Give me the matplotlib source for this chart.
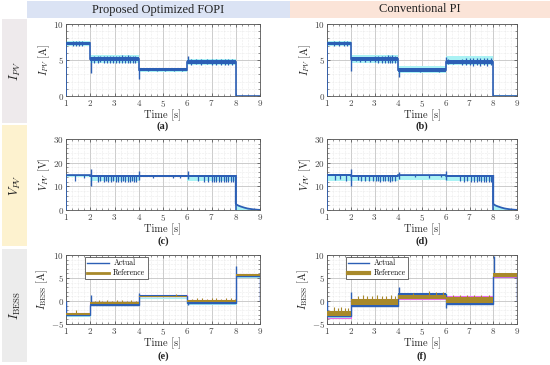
import numpy as np
import matplotlib
matplotlib.use("Agg")
import matplotlib.pyplot as plt
from matplotlib.patches import Rectangle
from matplotlib.lines import Line2D
from matplotlib.ticker import MultipleLocator

plt.rcParams['mathtext.fontset'] = 'cm'
plt.rcParams['font.family'] = ['cmr10', 'DejaVu Serif']
plt.rcParams['axes.formatter.use_mathtext'] = True

BLUE = '#2c5fb5'
CYAN = '#aaf2f4'
OLIVE = '#a8892a'
MAGENTA = '#e86be8'

edges = [1, 2, 4, 6, 8, 9]
edges_v = [1, 2, 4, 6, 8]

# (a) I_PV, proposed FOPI
ipv_a_level = [7.3, 5.1, 3.65, 4.75, 0.0]
ipv_a_lo = [7.05, 4.8, 3.45, 4.45, 0.0]
ipv_a_hi = [7.5, 5.4, 3.85, 5.0, 0.0]
ipv_a_cyan_lo = [7.0, 4.6, 3.3, 4.3, 0.0]
ipv_a_cyan_hi = [7.6, 5.7, 3.9, 5.2, 0.05]
ipv_a_burst_t = [1.28, 1.42, 1.55, 1.68,
                 2.15, 2.3, 2.42, 2.55, 2.68, 2.8, 2.92, 3.05, 3.18, 3.3, 3.42, 3.55, 3.65, 3.75, 3.85,
                 4.4, 4.75, 5.1, 5.45, 5.8,
                 6.15, 6.35, 6.55, 6.8, 7.0, 7.2, 7.4, 7.55, 7.7, 7.85]
ipv_a_burst_amp = [0.3, 0.35, 0.3, 0.3,
                   0.45, 0.5, 0.4, 0.5, 0.45, 0.5, 0.45, 0.5, 0.5, 0.55, 0.5, 0.55, 0.5, 0.5, 0.45,
                   0.15, 0.15, 0.2, 0.15, 0.2,
                   0.45, 0.35, 0.4, 0.35, 0.4, 0.4, 0.45, 0.4, 0.45, 0.4]
ipv_a_jump_t = [2.02, 4.02, 6.02]
ipv_a_jump_lo = [3.2, 2.4, 4.6]
ipv_a_jump_hi = [5.1, 3.65, 5.5]

# (b) I_PV, conventional PI
ipv_b_level = [7.3, 5.1, 3.6, 4.75, 0.0]
ipv_b_lo = [7.05, 4.8, 3.4, 4.45, 0.0]
ipv_b_hi = [7.5, 5.4, 3.85, 5.05, 0.0]
ipv_b_cyan_lo = [6.95, 4.55, 3.25, 4.35, 0.0]
ipv_b_cyan_hi = [7.7, 5.75, 4.2, 5.55, 0.1]
ipv_b_burst_t = [1.3, 1.5, 1.7, 1.85,
                 2.2, 2.4, 2.6, 2.8, 3.0, 3.15, 3.3, 3.45, 3.55, 3.65, 3.75, 3.85,
                 4.5, 4.9, 5.3, 5.7,
                 6.1, 6.3, 6.7, 6.85, 7.0, 7.15, 7.3, 7.45, 7.6, 7.75, 7.9]
ipv_b_burst_amp = [0.35, 0.4, 0.3, 0.3,
                   0.3, 0.35, 0.35, 0.35, 0.4, 0.45, 0.5, 0.5, 0.55, 0.5, 0.55, 0.5,
                   0.15, 0.2, 0.15, 0.2,
                   0.35, 0.3, 0.45, 0.5, 0.5, 0.55, 0.5, 0.55, 0.5, 0.55, 0.5]
ipv_b_jump_t = [2.02, 4.02, 6.02]
ipv_b_jump_lo = [3.5, 2.6, 4.6]
ipv_b_jump_hi = [5.1, 3.6, 5.4]

# (c) V_PV, proposed FOPI
vpv_c_level = [14.6, 14.4, 14.4, 14.3]
vpv_c_lo = [14.2, 13.9, 14.0, 13.8]
vpv_c_hi = [15.0, 14.8, 14.8, 14.7]
vpv_c_cyan_lo = [14.0, 12.3, 13.8, 12.3]
vpv_c_cyan_hi = [15.0, 14.8, 14.8, 14.8]
vpv_c_burst_t = [1.38, 1.75,
                 2.3, 2.42, 2.55, 2.65, 2.75, 2.85, 2.95, 3.05, 3.15, 3.25, 3.35, 3.45, 3.55, 3.65, 3.72, 3.8, 3.88,
                 4.6, 5.4, 5.7,
                 6.45, 6.7, 6.85, 7.0, 7.1, 7.2, 7.3, 7.4, 7.5, 7.6, 7.7, 7.8, 7.9]
vpv_c_burst_amp = [2.5, 1.0,
                   2.6, 2.2, 2.5, 2.3, 2.4, 2.5, 2.3, 2.6, 2.4, 2.5, 2.3, 2.5, 2.4, 2.6, 2.3, 2.5, 2.4,
                   0.8, 1.0, 0.8,
                   2.2, 2.4, 2.3, 2.6, 2.4, 2.5, 2.3, 2.5, 2.4, 2.6, 2.3, 2.5, 2.4]
vpv_c_jump_t = [2.02, 4.02, 6.02]
vpv_c_jump_lo = [10.0, 12.8, 13.0]
vpv_c_jump_hi = [17.5, 16.5, 16.5]

# (d) V_PV, conventional PI
vpv_d_level = [14.7, 14.5, 14.6, 14.4]
vpv_d_lo = [14.3, 14.0, 14.2, 13.9]
vpv_d_hi = [15.1, 14.9, 15.0, 14.8]
vpv_d_cyan_lo = [12.4, 12.2, 12.6, 12.2]
vpv_d_cyan_hi = [15.2, 15.0, 15.0, 15.0]
vpv_d_burst_t = [1.35, 1.55, 1.8,
                 2.3, 2.45, 2.6, 2.75, 2.95, 3.05, 3.15, 3.25, 3.35, 3.45, 3.55, 3.65, 3.75, 3.85,
                 4.7, 5.3, 5.8,
                 6.6, 6.75, 6.9, 7.05, 7.2, 7.3, 7.4, 7.5, 7.6, 7.7, 7.8, 7.9]
vpv_d_burst_amp = [2.2, 1.8, 2.3,
                   2.0, 2.3, 2.1, 2.4, 2.2, 2.4, 2.3, 2.5, 2.2, 2.4, 2.3, 2.5, 2.4, 2.3,
                   0.8, 1.0, 0.8,
                   2.2, 2.4, 2.3, 2.5, 2.4, 2.5, 2.3, 2.5, 2.4, 2.6, 2.4, 2.5]
vpv_d_jump_t = [2.02, 4.02, 6.02]
vpv_d_jump_lo = [10.0, 13.0, 12.5]
vpv_d_jump_hi = [17.5, 16.0, 16.5]

# V_PV collapse after t = 8 s (same in both columns)
vpv_decay_t = [8.0, 8.0, 8.03, 8.1, 8.2, 8.35, 8.5, 8.7, 8.9, 9.0]
vpv_decay_v = [14.4, 2.7, 2.3, 1.9, 1.5, 1.0, 0.6, 0.3, 0.1, 0.05]

# (e) I_BESS, proposed FOPI
ib_e_act_level = [-3.0, -0.8, 1.1, -0.35, 5.5]
ib_e_act_lo = [-3.25, -0.9, 0.9, -0.5, 5.25]
ib_e_act_hi = [-2.75, -0.65, 1.3, -0.2, 5.75]
ib_e_ref_lo = [-3.0, -0.6, 0.85, -0.2, 5.35]
ib_e_ref_hi = [-2.6, -0.2, 1.1, 0.2, 5.8]
ib_e_mag = [-2.6, -0.15, 1.3, 0.3, 5.85]
ib_e_cyan = [-3.3, -0.95, 0.75, -0.6, 5.2]
ib_e_burst_t = [1.4,
                2.2, 2.35, 2.5, 2.7, 2.9, 3.1, 3.3, 3.5, 3.7, 3.9,
                5.55,
                6.2, 6.4, 6.6, 6.8, 7.0, 7.2, 7.4, 7.6, 7.8, 7.95]
ib_e_burst_amp = [0.6,
                  0.3, 0.4, 0.3, 0.35, 0.3, 0.4, 0.35, 0.3, 0.4, 0.3,
                  0.45,
                  0.3, 0.4, 0.35, 0.3, 0.4, 0.35, 0.3, 0.4, 0.35, 0.3]
ib_e_jump_t = [2.02, 4.02, 6.02, 8.02]
ib_e_jump_lo = [-0.8, 1.1, -0.8, 5.5]
ib_e_jump_hi = [1.2, 1.8, -0.35, 7.7]

# (f) I_BESS, conventional PI
ib_f_act_level = [-3.35, -1.0, 1.5, -0.6, 5.35]
ib_f_act_lo = [-3.5, -1.1, 1.3, -0.75, 5.2]
ib_f_act_hi = [-3.2, -0.9, 1.65, -0.45, 5.5]
ib_f_ref_lo = [-3.3, -0.9, 0.5, -0.5, 5.3]
ib_f_ref_hi = [-2.2, 0.4, 1.4, 0.95, 6.0]
ib_f_mag = [-3.65, 0.5, 0.5, 1.15, 5.2]
ib_f_cyan = [-3.45, -1.05, 1.7, -0.65, 6.05]
ib_f_burst_t = [1.3, 1.45, 1.6, 1.75, 1.9,
                2.3, 2.5, 2.7, 2.9, 3.1, 3.3, 3.5, 3.7, 3.85,
                4.6, 5.3, 5.6, 5.9,
                6.3, 6.6, 6.9, 7.2, 7.5, 7.8]
ib_f_burst_amp = [0.8, 0.7, 0.9, 0.6, 0.7,
                  0.6, 0.8, 0.7, 0.6, 0.8, 0.7, 0.6, 0.8, 0.7,
                  0.4, 0.8, 0.6, 0.5,
                  0.3, 0.35, 0.3, 0.35, 0.3, 0.35]
ib_f_jump_t = [2.02, 4.02, 6.02, 8.02]
ib_f_jump_lo = [-1.0, 1.5, -1.5, 5.35]
ib_f_jump_hi = [2.0, 3.0, -0.6, 9.8]

col_titles = ['Proposed Optimized FOPI', 'Conventional PI']
row_titles = [r'$I_{PV}$', r'$V_{PV}$', r'$I_{\mathrm{BESS}}$']
panel_tags = ['(a)', '(b)', '(c)', '(d)', '(e)', '(f)']


def px(x):
    return x / 550.0


def py(y):
    return 1 - y / 365.0


def level_at(t, e, lev):
    i = np.searchsorted(e, t, side='right') - 1
    return np.asarray(lev)[np.clip(i, 0, len(lev) - 1)]


def bursts(ax, t, amp, e, lev, color, mode='both', lw=0.9, z=4):
    base = level_at(np.array(t), e, lev)
    amp = np.array(amp)
    if mode == 'both':
        ax.vlines(t, base - amp, base + amp, color=color, lw=lw, zorder=z)
    elif mode == 'down':
        ax.vlines(t, base - amp, base, color=color, lw=lw, zorder=z)
    else:
        ax.vlines(t, base, base + amp, color=color, lw=lw, zorder=z)


def style(ax, ylim, ymaj, ymin, ylabel):
    ax.set_xlim(1, 9)
    ax.set_ylim(ylim)
    ax.xaxis.set_major_locator(MultipleLocator(1))
    ax.xaxis.set_minor_locator(MultipleLocator(0.25))
    ax.yaxis.set_major_locator(MultipleLocator(ymaj))
    ax.yaxis.set_minor_locator(MultipleLocator(ymin))
    ax.set_axisbelow(True)
    ax.grid(which='major', color='#c4c4c4', lw=0.6)
    ax.grid(which='minor', color='#dadada', lw=0.4, ls=':')
    ax.tick_params(which='both', direction='in', top=True, right=True,
                   labelsize=6.5, colors='#444444', pad=1.5)
    ax.tick_params(which='major', length=2.5, width=0.5)
    ax.tick_params(which='minor', length=1.2, width=0.4)
    for s in ax.spines.values():
        s.set_color('#555555')
        s.set_linewidth(0.6)
    ax.set_xlabel('Time [s]', fontsize=7.5, labelpad=0, color='#222222')
    ax.set_ylabel(ylabel, fontsize=7.5, labelpad=1, color='#222222')


fig = plt.figure(figsize=(5.5, 3.65), dpi=100)

# header bands and row bands
fig.add_artist(Rectangle((px(27), py(18)), px(290 - 27), py(1) - py(18),
                         transform=fig.transFigure, color='#dbe3f4', lw=0))
fig.add_artist(Rectangle((px(290), py(18)), px(550 - 290), py(1) - py(18),
                         transform=fig.transFigure, color='#fbe4d8', lw=0))
fig.text(px(158), py(9.5), col_titles[0], ha='center', va='center', fontsize=9,
         family='Liberation Serif', color='#222222')
fig.text(px(420), py(9.5), col_titles[1], ha='center', va='center', fontsize=9,
         family='Liberation Serif', color='#222222')

bands = [(19, 123, '#eeeaec'), (125, 246, '#fdf2cf'), (249, 362, '#ececec')]
for (y0, y1, c), title in zip(bands, row_titles):
    fig.add_artist(Rectangle((px(2), py(y1)), px(25), py(y0) - py(y1),
                             transform=fig.transFigure, color=c, lw=0))
    fig.text(px(15), py((y0 + y1) / 2), title, rotation=90, ha='center', va='center',
             fontsize=9, color='#222222')

lefts = [66, 327]
widths = [194, 190]
rows = [(24, 96), (139, 210), (255, 324)]
axes = {}
for r, (top, bot) in enumerate(rows):
    for c in range(2):
        axes[(r, c)] = fig.add_axes([px(lefts[c]), py(bot), px(widths[c]), py(top) - py(bot)])

# row 1: I_PV
ipv_sets = [
    (ipv_a_level, ipv_a_lo, ipv_a_hi, ipv_a_cyan_lo, ipv_a_cyan_hi, ipv_a_burst_t, ipv_a_burst_amp,
     ipv_a_jump_t, ipv_a_jump_lo, ipv_a_jump_hi),
    (ipv_b_level, ipv_b_lo, ipv_b_hi, ipv_b_cyan_lo, ipv_b_cyan_hi, ipv_b_burst_t, ipv_b_burst_amp,
     ipv_b_jump_t, ipv_b_jump_lo, ipv_b_jump_hi),
]
for c, (lev, lo, hi, clo, chi, bt, ba, jt, jlo, jhi) in enumerate(ipv_sets):
    ax = axes[(0, c)]
    ax.stairs(chi, edges, baseline=clo, fill=True, color=CYAN, lw=0, zorder=2)
    ax.stairs(hi, edges, baseline=lo, fill=True, color=BLUE, lw=0, zorder=3)
    ax.stairs(lev, edges, color=BLUE, lw=1.2, zorder=3)
    bursts(ax, bt, ba, edges, lev, BLUE)
    ax.vlines(jt, jlo, jhi, color=BLUE, lw=1.0, zorder=4)
    style(ax, (0, 10), 5, 1, r'$I_{PV}$ [A]')

# row 2: V_PV
vpv_sets = [
    (vpv_c_level, vpv_c_lo, vpv_c_hi, vpv_c_cyan_lo, vpv_c_cyan_hi, vpv_c_burst_t, vpv_c_burst_amp,
     vpv_c_jump_t, vpv_c_jump_lo, vpv_c_jump_hi),
    (vpv_d_level, vpv_d_lo, vpv_d_hi, vpv_d_cyan_lo, vpv_d_cyan_hi, vpv_d_burst_t, vpv_d_burst_amp,
     vpv_d_jump_t, vpv_d_jump_lo, vpv_d_jump_hi),
]
for c, (lev, lo, hi, clo, chi, bt, ba, jt, jlo, jhi) in enumerate(vpv_sets):
    ax = axes[(1, c)]
    ax.stairs(chi, edges_v, baseline=clo, fill=True, color=CYAN, lw=0, zorder=2)
    ax.fill_between(vpv_decay_t, vpv_decay_v, color=CYAN, lw=0, zorder=2)
    ax.stairs(hi, edges_v, baseline=lo, fill=True, color=BLUE, lw=0, zorder=3)
    ax.stairs(lev, edges_v, color=BLUE, lw=1.2, zorder=3)
    ax.plot(vpv_decay_t, vpv_decay_v, color=BLUE, lw=1.3, zorder=3)
    bursts(ax, bt, ba, edges_v, lev, BLUE, mode='down')
    ax.vlines(jt, jlo, jhi, color=BLUE, lw=1.0, zorder=4)
    style(ax, (0, 30), 10, 2, r'$V_{PV}$ [V]')

# row 3: I_BESS
ib_sets = [
    (ib_e_act_level, ib_e_act_lo, ib_e_act_hi, ib_e_ref_lo, ib_e_ref_hi, ib_e_mag, ib_e_cyan,
     ib_e_burst_t, ib_e_burst_amp, ib_e_jump_t, ib_e_jump_lo, ib_e_jump_hi, 2.0),
    (ib_f_act_level, ib_f_act_lo, ib_f_act_hi, ib_f_ref_lo, ib_f_ref_hi, ib_f_mag, ib_f_cyan,
     ib_f_burst_t, ib_f_burst_amp, ib_f_jump_t, ib_f_jump_lo, ib_f_jump_hi, 3.0),
]
for c, (lev, alo, ahi, rlo, rhi, mag, cy, bt, ba, jt, jlo, jhi, leg_lw) in enumerate(ib_sets):
    ax = axes[(2, c)]
    ax.stairs(cy, edges, color=CYAN, lw=0.8, zorder=2)
    ax.stairs(mag, edges, color=MAGENTA, lw=0.8, zorder=2)
    ax.stairs(ahi, edges, baseline=alo, fill=True, color=BLUE, lw=0, zorder=3)
    ax.stairs(lev, edges, color=BLUE, lw=1.0, zorder=3)
    ax.vlines(jt, jlo, jhi, color=BLUE, lw=1.0, zorder=3)
    ax.stairs(rhi, edges, baseline=rlo, fill=True, color=OLIVE, lw=0, zorder=4)
    bursts(ax, bt, ba, edges, rhi, OLIVE, mode='up', lw=0.8, z=4)
    style(ax, (-5, 10), 5, 1, r'$I_{\mathrm{BESS}}$ [A]')
    handles = [Line2D([], [], color=BLUE, lw=1.0), Line2D([], [], color=OLIVE, lw=leg_lw)]
    ax.legend(handles, ['Actual', 'Reference'], loc='upper left', bbox_to_anchor=(0.09, 1.0),
              fontsize=5.5, frameon=True, fancybox=False, edgecolor='#333333', framealpha=1,
              borderpad=0.3, handlelength=2.8, labelspacing=0.2, handletextpad=0.6,
              borderaxespad=0.2).get_frame().set_linewidth(0.5)

# panel tags
tag_pos = [(163, 126), (422, 126), (163, 241), (422, 241), (163, 356), (422, 356)]
for tag, (x, y) in zip(panel_tags, tag_pos):
    fig.text(px(x), py(y), tag, ha='center', va='center', fontsize=7.5, fontweight='bold',
             family='Liberation Serif', color='#222222')

fig.savefig('out.png', dpi=100)
